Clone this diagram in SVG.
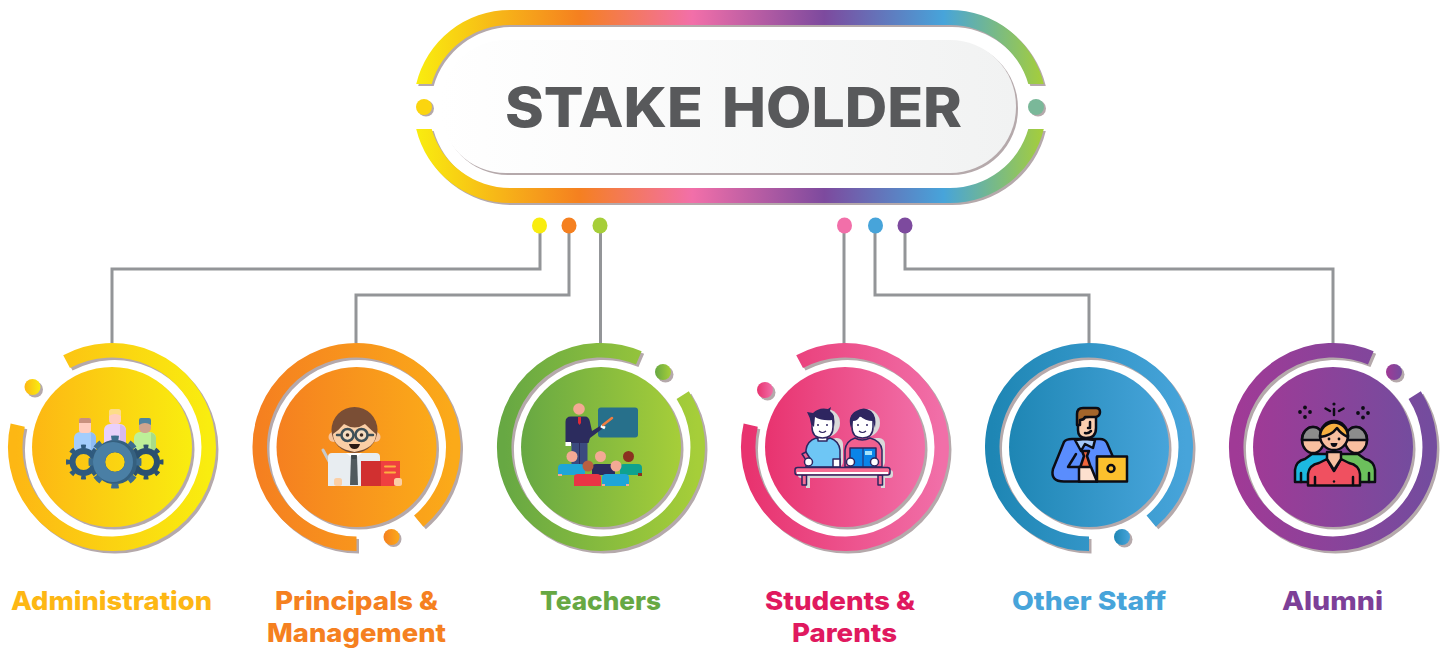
<svg xmlns="http://www.w3.org/2000/svg" width="1451" height="650" viewBox="0 0 1451 650">
<style>
.sh{fill:none;stroke:#b5a9ab;stroke-width:14.5}
.rg{fill:none;stroke-width:14.5}
.c{fill:none;stroke:#939598;stroke-width:3}
.lb{font-family:Inter,"Liberation Sans",sans-serif;font-weight:800;font-size:26px}
.sd{fill:#b5a9ab}
.k{stroke:#0c0c14;stroke-width:2.500;stroke-linejoin:round;stroke-linecap:round}
.n{fill:none;stroke:#0c0c14;stroke-width:2.500;stroke-linecap:round;stroke-linejoin:round}
.o{stroke:#2e2560;stroke-width:1.500;stroke-linejoin:round}
.g4{fill:#d9d9d9}
</style>
<defs>
<linearGradient id="bar" gradientUnits="userSpaceOnUse" x1="416" y1="0" x2="1044" y2="0">
<stop offset="0" stop-color="#f9ed0f"/><stop offset=".26" stop-color="#f58020"/><stop offset=".44" stop-color="#f26fa9"/><stop offset=".65" stop-color="#7d4a9e"/><stop offset=".84" stop-color="#47a4da"/><stop offset="1" stop-color="#a6ce39"/>
</linearGradient>
<linearGradient id="panel"><stop offset="0" stop-color="#fff"/><stop offset="1" stop-color="#f1f2f2"/></linearGradient>
<linearGradient id="g1"><stop offset="0" stop-color="#fdb714"/><stop offset="1" stop-color="#f9ed0f"/></linearGradient>
<linearGradient id="g2"><stop offset="0" stop-color="#f58020"/><stop offset="1" stop-color="#fbaa19"/></linearGradient>
<linearGradient id="g3"><stop offset="0" stop-color="#67a843"/><stop offset="1" stop-color="#a6ce39"/></linearGradient>
<linearGradient id="g4"><stop offset="0" stop-color="#e8336f"/><stop offset="1" stop-color="#f16fa8"/></linearGradient>
<linearGradient id="g5"><stop offset="0" stop-color="#1e86b4"/><stop offset="1" stop-color="#47a4da"/></linearGradient>
<linearGradient id="g6"><stop offset="0" stop-color="#a03a96"/><stop offset="1" stop-color="#744c9e"/></linearGradient>
<path id="ringA" d="M-45.4,-85.4A96.75,96.75 0 1 1 -94.3,-21.8"/>
<path id="ringB" d="M0,96.75A96.75,96.75 0 1 1 62.2,74.1"/>
<path id="ringC" d="M81.7,-51.8A96.75,96.75 0 1 1 37.8,-89.1"/>
<path id="barTop" d="M416.2,84A96.5,96.5 0 0 1 510,10H950A96.5,96.5 0 0 1 1043.8,84H1028.3A81.5,81.5 0 0 0 950,25H510A81.5,81.5 0 0 0 431.7,84Z"/>
<path id="barBot" d="M416.2,129A96.5,96.5 0 0 0 510,203H950A96.5,96.5 0 0 0 1043.8,129H1028.3A81.5,81.5 0 0 1 950,188H510A81.5,81.5 0 0 1 431.7,129Z"/>
<g id="gearS"><circle r="11" fill="none" stroke-width="6"/><circle r="15.5" fill="none" stroke-width="4" pathLength="80" stroke-dasharray="4 6" stroke-dashoffset="2"/></g>
</defs>

<g id="connectors">
<path class="c" d="M540,232V269H112V343"/>
<path class="c" d="M569,232V295H356V343"/>
<path class="c" d="M600.500,232V344"/>
<path class="c" d="M844,232V344"/>
<path class="c" d="M875,232V295H1089V344"/>
<path class="c" d="M905,232V269H1333V344"/>
<ellipse cx="539.500" cy="225.500" rx="7.500" ry="8" fill="#f9ed0f"/>
<ellipse cx="569" cy="225.500" rx="7.500" ry="8" fill="#f58020"/>
<ellipse cx="600" cy="225.500" rx="7.500" ry="8" fill="#a6ce39"/>
<ellipse cx="844.500" cy="225.500" rx="7.500" ry="8" fill="#f26fa9"/>
<ellipse cx="875.500" cy="225.500" rx="7.500" ry="8" fill="#47a4da"/>
<ellipse cx="905" cy="225.500" rx="7.500" ry="8" fill="#7d4a9e"/>
</g>

<g id="title">
<use href="#barTop" class="sd" transform="translate(2,2)"/>
<use href="#barBot" class="sd" transform="translate(2,2)"/>
<use href="#barTop" fill="url(#bar)"/>
<use href="#barBot" fill="url(#bar)"/>
<circle cx="426" cy="108.500" r="8" class="sd"/><circle cx="424" cy="107" r="8" fill="#fbd50f"/>
<circle cx="1038" cy="108.500" r="8" class="sd"/><circle cx="1036" cy="107" r="8" fill="#7ab899"/>
<rect x="442" y="42" width="576" height="133" rx="66" class="sd"/>
<rect x="440" y="40" width="576" height="133" rx="66" fill="url(#panel)"/>
<text x="733.500" y="127" text-anchor="middle" textLength="457" lengthAdjust="spacingAndGlyphs" word-spacing="6" font-family="Inter,'Liberation Sans',sans-serif" font-weight="800" font-size="55" fill="#58595b">STAKE HOLDER</text>
</g>

<g id="node-administration">
<g transform="translate(112,447)">
<use href="#ringA" class="sh" transform="translate(2.500,2.500)"/><use href="#ringA" class="rg" stroke="url(#g1)"/>
<circle cx="-77" cy="-57.500" r="8" class="sd"/><circle cx="-79.500" cy="-60" r="8" fill="url(#g1)"/>
<circle cx="2.500" cy="2.500" r="80" class="sd"/><circle r="80" fill="url(#g1)"/>
</g>
<rect x="74" y="432" width="22" height="22" rx="6" fill="#a3cdfd"/><path d="M91,432.500Q96,434 96,438V450H91Z" fill="#8fbdf5"/>
<rect x="79" y="418" width="12" height="15" rx="3" fill="#ffcdc0"/><path d="M79,423V420Q79,418 81,418H89Q91,418 91,420V423Z" fill="#c9917f"/>
<rect x="104" y="424" width="22" height="26" rx="6" fill="#e8d0fb"/><path d="M120,424.500Q126,426 126,431V450H120Z" fill="#d6b9f0"/>
<rect x="109" y="409" width="12" height="15" rx="4" fill="#ffcdc0"/><path d="M109,416V412Q109,409 112,409H118Q121,409 121,412V416Q115,412 109,416Z" fill="#fddd87"/>
<rect x="134" y="432" width="22" height="22" rx="6" fill="#bdf098"/><path d="M151,432.500Q156,434 156,438V450H151Z" fill="#a8dc88"/>
<rect x="139" y="418" width="12" height="15" rx="5" fill="#d0a58e"/><path d="M139,425V420Q139,418 141,418H149Q151,418 151,420V425Q145,421 139,425Z" fill="#4f84a0"/>
<use href="#gearS" transform="translate(83.500,462)" stroke="#2f5a7e"/>
<use href="#gearS" transform="translate(146,462)" stroke="#2b506f"/>
<g transform="translate(115,462)">
<circle r="16" fill="none" stroke="#35607f" stroke-width="12.400"/>
<circle r="24" fill="none" stroke="#3d6d90" stroke-width="5" pathLength="80" stroke-dasharray="4 6" stroke-dashoffset="2"/>
<path fill-rule="evenodd" fill="#4a7fa5" d="M-22,0A20,20 0 1 1 18,0A20,20 0 1 1 -22,0ZM-10,0A10,10 0 1 0 10,0A10,10 0 1 0 -10,0Z"/>
</g>
<text class="lb" x="111.500" y="610" text-anchor="middle" textLength="201" lengthAdjust="spacingAndGlyphs" fill="#fdb714">Administration</text>
</g>

<g id="node-principals">
<g transform="translate(356.500,447)">
<use href="#ringB" class="sh" transform="translate(2.500,2.500)"/><use href="#ringB" class="rg" stroke="url(#g2)"/>
<circle cx="37" cy="92" r="8" class="sd"/><circle cx="35" cy="90" r="8" fill="url(#g2)"/>
<circle cx="2.500" cy="2.500" r="80" class="sd"/><circle r="80" fill="url(#g2)"/>
</g>
<path d="M323,450L338,478" stroke="#c5c9cc" stroke-width="3" stroke-linecap="round"/>
<path d="M328,486V457Q328,453 332,453H376Q380,453 380,457V486Z" fill="#e8edf1"/>
<path d="M346,453H362L354,459Z" fill="#fff"/>
<path d="M351,456H357L358,485H350Z" fill="#505a5e"/>
<path d="M351,455H357L356,459H352Z" fill="#3f484c"/>
<rect x="334" y="478" width="8" height="8" rx="2.500" fill="#fbcfa6"/>
<rect x="361" y="461" width="20" height="25" fill="#d13030"/>
<rect x="381" y="461" width="19" height="25" fill="#ef4040"/>
<path d="M385,466.500H395M385,472.500H395" stroke="#fbb040" stroke-width="2" stroke-linecap="round"/>
<rect x="394" y="478" width="8" height="8" rx="2.500" fill="#fbcfa6"/>
<circle cx="333.500" cy="437" r="5" fill="#f7c39a"/><circle cx="375.500" cy="437" r="5" fill="#f7c39a"/>
<circle cx="354.500" cy="430" r="23" fill="#7a4e35"/>
<path d="M333,434Q339,430 344,424Q355,431 365,424Q371,430 376,434Q376,448 354.500,452Q333,448 333,434Z" fill="#fbcfa6"/>
<g fill="#f6dcc0" stroke="#3f5058" stroke-width="2.500"><circle cx="347.500" cy="435" r="6"/><circle cx="361.500" cy="435" r="6"/></g>
<path d="M337,435H341M354,435H355M368,435H373" stroke="#3f5058" stroke-width="2.500" stroke-linecap="round"/>
<circle cx="347.500" cy="435" r="1.800" fill="#3f2a20"/><circle cx="361.500" cy="435" r="1.800" fill="#3f2a20"/>
<path d="M349,444H360Q359,449 354.500,449Q350,449 349,444Z" fill="#2b1a14"/>
<text class="lb" x="356.500" y="610" text-anchor="middle" textLength="163" lengthAdjust="spacingAndGlyphs" fill="#f58020">Principals &amp;</text>
<text class="lb" x="356.500" y="642" text-anchor="middle" textLength="179" lengthAdjust="spacingAndGlyphs" fill="#f58020">Management</text>
</g>

<g id="node-teachers">
<g transform="translate(601,447)">
<use href="#ringC" class="sh" transform="translate(2.500,2.500)"/><use href="#ringC" class="rg" stroke="url(#g3)"/>
<circle cx="64.500" cy="-72.500" r="8" class="sd"/><circle cx="62" cy="-75" r="8" fill="url(#g3)"/>
<circle cx="2.500" cy="2.500" r="80" class="sd"/><circle r="80" fill="url(#g3)"/>
</g>
<rect x="598" y="407.500" width="40" height="30" rx="3" fill="#27708b"/>
<rect x="571.500" y="440" width="16" height="28" fill="#3b4a7f"/>
<path d="M579.500,441V468" stroke="#2c2c5e" stroke-width="1"/>
<path d="M565.500,422Q565.500,416.500 571,416.500H585Q589,416.500 590,422L592,431L600,426L602,429L590,438L588.500,443H571V442H565.500Z" fill="#2c2c5e"/>
<path d="M578,417H581L581,423L579.500,425L578,423Z" fill="#e02a38"/>
<rect x="565.500" y="442" width="5.500" height="4" fill="#fff"/>
<path d="M601,426L605,428" stroke="#fff" stroke-width="3"/>
<path d="M603,425L612,418" stroke="#f07d41" stroke-width="2.500" stroke-linecap="round"/>
<circle cx="579" cy="409" r="5.800" fill="#f4a994"/>
<path d="M592,475V467Q592,464 596,464H611Q615,464 615,467V475Z" fill="#2b2b5e"/><circle cx="600.500" cy="456.500" r="5.500" fill="#f4a994"/>
<path d="M620,475V467Q620,464 624,464H638Q642,464 642,468V475Z" fill="#0fa28e"/><path d="M638,473H642V476H638Z" fill="#8b3220"/><circle cx="628.500" cy="456.500" r="5.500" fill="#8b3220"/>
<path d="M558,475V468Q558,464 562,464H580Q585,464 585,468V475Z" fill="#1fa5d8"/><path d="M558,474H562V476H558Z" fill="#f4a994"/><circle cx="572" cy="456.500" r="5.500" fill="#f4a994"/>
<path d="M574,486V477Q574,474 578,474H597Q601,474 601,478V486Z" fill="#e93545"/><circle cx="588" cy="466" r="5.500" fill="#b85f40"/>
<path d="M602,486V478Q602,474 606,474H625Q629,474 629,478V486Z" fill="#1fa5d8"/><path d="M602,484H605V486H602ZM626,484H629V486H626Z" fill="#f4a994"/><circle cx="616" cy="466" r="5.500" fill="#f4a994"/>
<text class="lb" x="600.500" y="610" text-anchor="middle" textLength="121" lengthAdjust="spacingAndGlyphs" fill="#67a843">Teachers</text>
</g>

<g id="node-students">
<g transform="translate(845,447)">
<use href="#ringA" class="sh" transform="translate(2.500,2.500)"/><use href="#ringA" class="rg" stroke="url(#g4)"/>
<circle cx="-77.500" cy="-54.500" r="8" class="sd"/><circle cx="-80" cy="-57" r="8" fill="url(#g4)"/>
<circle cx="2.500" cy="2.500" r="80" class="sd"/><circle r="80" fill="url(#g4)"/>
</g>
<g class="g4">
<rect x="798" y="470" width="95" height="8" rx="3"/><rect x="806" y="478" width="4" height="10"/><rect x="881" y="478" width="4" height="10"/>
<circle cx="826" cy="423" r="14"/><circle cx="866" cy="423" r="14"/>
<rect x="830" y="438" width="13" height="30" rx="6"/><rect x="870" y="438" width="15" height="30" rx="6"/>
</g>
<path class="o" fill="#6ec6f5" d="M806,467V450Q807,441 816,438Q823,442 830,438Q839,441 840,450V467Z"/>
<rect class="o" x="833" y="459" width="7" height="8" fill="#fff"/>
<path class="o" fill="#f0608f" d="M799,452L803,450L808,458L805,461Z" transform="translate(3,2)"/>
<circle class="o" cx="808.500" cy="462" r="4" fill="#fff"/>
<rect class="o" x="818" y="434" width="9" height="7" fill="#fff"/>
<path class="o" fill="#fff" d="M812,416H833V427Q833,438 822.500,438Q812,438 812,427Z"/>
<path fill="#2e2560" d="M807,412L813,413Q819,407 828,409L831,407L830,411Q836,415 834,427L832,420Q822,421 815,417L814,427L811,424Q810,417 807,412Z"/>
<path d="M819,431Q822.500,434 826,431" fill="none" stroke="#2e2560" stroke-width="1.200"/>
<circle cx="818" cy="425" r="1" fill="#2e2560"/><circle cx="827" cy="425" r="1" fill="#2e2560"/>
<path class="o" fill="#f0608f" d="M845,467V450Q846,441 855,438Q862,442 870,438Q881,441 882,450V467Z"/>
<path class="o" fill="#0a84e8" d="M850,448H876V467H850Z"/><path d="M863,448V467" stroke="#2e2560" stroke-width="1"/>
<rect x="865" y="451" width="7" height="4" fill="#a5e4fb"/>
<circle class="o" cx="850.500" cy="462" r="4" fill="#fff"/><circle class="o" cx="874.500" cy="462" r="4" fill="#fff"/>
<path class="o" fill="#fff" d="M852,416H873V427Q873,438 862.500,438Q852,438 852,427Z"/>
<path fill="#2e2560" d="M851,428Q847,416 856,411Q864,406 871,411Q877,416 875,428L873,421Q865,421 860,416Q858,421 853,421Z"/>
<path d="M859,431Q862.500,434 866,431" fill="none" stroke="#2e2560" stroke-width="1.200"/>
<circle cx="858" cy="425" r="1" fill="#2e2560"/><circle cx="867" cy="425" r="1" fill="#2e2560"/>
<rect class="o" x="802" y="475" width="4.500" height="10" fill="#f76d93"/><rect class="o" x="878" y="475" width="4.500" height="10" fill="#f76d93"/>
<rect class="o" x="795" y="467.500" width="95" height="7.500" rx="2.500" fill="#f76d93"/>
<rect x="797" y="472" width="91" height="2" fill="#fff"/>
<text class="lb" x="840" y="610" text-anchor="middle" textLength="150" lengthAdjust="spacingAndGlyphs" fill="#e0195f">Students &amp;</text>
<text class="lb" x="844.500" y="642" text-anchor="middle" textLength="105" lengthAdjust="spacingAndGlyphs" fill="#e0195f">Parents</text>
</g>

<g id="node-other-staff">
<g transform="translate(1089,447)">
<use href="#ringB" class="sh" transform="translate(2.500,2.500)"/><use href="#ringB" class="rg" stroke="url(#g5)"/>
<circle cx="35.500" cy="92.500" r="8" class="sd"/><circle cx="33" cy="90" r="8" fill="url(#g5)"/>
<circle cx="2.500" cy="2.500" r="80" class="sd"/><circle r="80" fill="url(#g5)"/>
</g>
<path class="k" fill="#5a8dfd" d="M1064,442Q1066,439 1072,439H1100Q1105,439 1107,443L1113,457H1097V481.500H1064Q1050,481.500 1053,469Z"/>
<path class="k" fill="#a5c8f9" d="M1075,440L1085,439L1095,440L1093,448L1085,444L1081,451Z"/>
<path class="k" fill="#f0643c" stroke-width="1.500" d="M1082,451H1089L1087,456L1091,468H1080L1084,456Z"/>
<path class="k" fill="#fde0cf" d="M1079,467H1091L1097,481.500H1079Z"/>
<path class="n" d="M1076,454L1068,467H1079"/>
<path class="k" fill="#fbcfb0" d="M1078,418V430Q1078,438 1086,438Q1096,438 1096,428V416Z"/>
<path class="k" fill="#a5652a" d="M1077,425V414Q1077,408 1083,408H1096Q1100,408 1100,412Q1100,416 1096,417H1085Q1084,420 1080,420V425Z"/>
<path class="n" stroke-width="1.500" d="M1090,422V428L1088,428M1085,433Q1088,434 1091,431"/>
<rect class="k" x="1097" y="456.500" width="30" height="25" fill="#fbc02d"/>
<circle class="k" cx="1111" cy="468.500" r="3.500" fill="#fbc02d"/>
<text class="lb" x="1089" y="610" text-anchor="middle" textLength="154" lengthAdjust="spacingAndGlyphs" fill="#47a4da">Other Staff</text>
</g>

<g id="node-alumni">
<g transform="translate(1333,447)">
<use href="#ringC" class="sh" transform="translate(2.500,2.500)"/><use href="#ringC" class="rg" stroke="url(#g6)"/>
<circle cx="63.500" cy="-72.500" r="8" class="sd"/><circle cx="61" cy="-75" r="8" fill="url(#g6)"/>
<circle cx="2.500" cy="2.500" r="80" class="sd"/><circle r="80" fill="url(#g6)"/>
</g>
<g fill="#0c0c14"><circle cx="1305" cy="407.500" r="1.900"/><circle cx="1305" cy="417" r="1.900"/><circle cx="1300" cy="412" r="1.900"/><circle cx="1310" cy="412" r="1.900"/>
<circle cx="1363" cy="408" r="1.900"/><circle cx="1363" cy="417.500" r="1.900"/><circle cx="1358" cy="413" r="1.900"/><circle cx="1368" cy="413" r="1.900"/><circle cx="1334" cy="404" r="1.600"/></g>
<path class="n" d="M1334,409V415M1325.500,408.500L1330,411M1343.500,408.500L1339,411"/>
<path class="k" fill="#1cb8e0" d="M1295,482V470Q1296,461 1305,459L1312,454H1330V482Z"/>
<path class="k" fill="#6cc05c" d="M1375,482V470Q1374,461 1365,459L1358,454H1340V482Z"/>
<path class="n" d="M1301,482V473M1369,482V473"/>
<ellipse class="k" cx="1313" cy="440" rx="11" ry="13" fill="#f8bfa0"/><path class="k" fill="#8c8c8c" d="M1302,440A11,13 0 0 1 1324,440Z"/>
<ellipse class="k" cx="1356" cy="440" rx="11" ry="13" fill="#f8bfa0"/><path class="k" fill="#8c8c8c" d="M1345,440A11,13 0 0 1 1367,440Z"/>
<path class="k" fill="#f05060" d="M1308,485.500V474Q1309,465 1319,463L1327,459L1334,471L1341,459L1349,463Q1359,465 1360,474V485.500Z"/>
<path class="n" d="M1315,485V477M1353,485V477"/>
<path class="k" fill="#f8bfa0" d="M1327,459V452L1341,452V459L1334,470Z"/>
<ellipse class="k" cx="1334" cy="435.500" rx="14" ry="14.500" fill="#f8bfa0"/>
<path class="k" fill="#f8b040" d="M1320,437A14,14.500 0 0 1 1348,437Q1341,434 1337,428Q1331,436 1320,437Z"/>
<circle cx="1329" cy="439" r="1.400" fill="#0c0c14"/><circle cx="1339" cy="439" r="1.400" fill="#0c0c14"/>
<path d="M1330.500,443H1337.500Q1337,447 1334,447Q1331,447 1330.500,443Z" fill="#0c0c14"/>
<circle cx="1334" cy="481.500" r="1.200" fill="#0c0c14"/>
<text class="lb" x="1332.500" y="610" text-anchor="middle" textLength="101" lengthAdjust="spacingAndGlyphs" fill="#7d3f98">Alumni</text>
</g>
</svg>
